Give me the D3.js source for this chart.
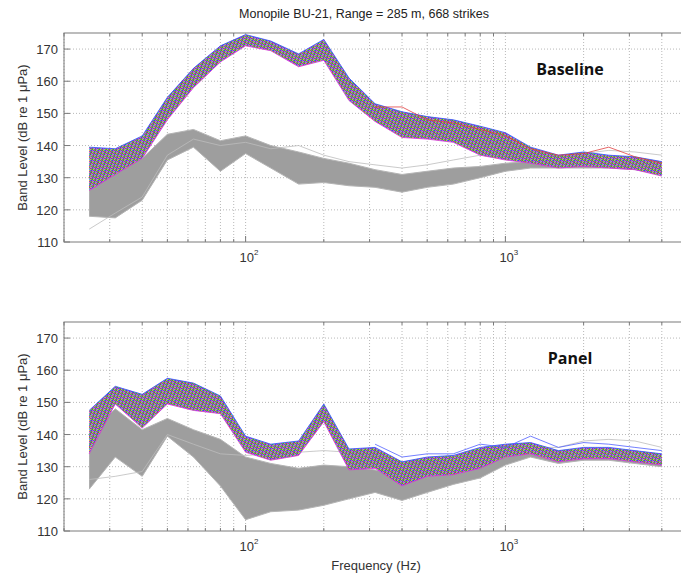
<!DOCTYPE html>
<html>
<head>
<meta charset="utf-8">
<script src="https://cdn.jsdelivr.net/npm/d3@7"></script>
<style>
  body { margin: 0; background: #fff; }
  svg { font-family: "Liberation Sans", Arial, sans-serif; }
</style>
</head>
<body>
<svg id="chart" width="681" height="574"></svg>
<script>
// 1/3 octave band centre frequencies (Hz)
const freqs = [25, 31.5, 40, 50, 63, 80, 100, 125, 160, 200, 250, 315, 400, 500, 630, 800, 1000, 1250, 1600, 2000, 2500, 3150, 4000];

// Baseline: strike levels (coloured bundle), upper and lower edge
const baseHi = [139.5, 139, 143, 155, 164, 171, 174.5, 172.5, 168.5, 173, 161, 153, 150.5, 149, 148, 146, 144, 139.5, 137, 138, 137, 136.5, 135];
const baseLo = [126, 131, 136, 148, 158, 166, 171, 169.5, 164.5, 166.5, 154, 147.5, 142.5, 142, 141, 137, 135.5, 134.5, 133, 133.5, 133, 132.5, 130.5];
// Baseline: background between strikes (grey bundle)
const baseBgHi = [133, 133, 136, 143.5, 145, 141.5, 143, 140, 138, 136, 134.5, 132.5, 131, 132, 133, 133.5, 134.5, 135, 135, 135, 135, 134.5, 133.5];
const baseBgLo = [118, 117.5, 123, 135.5, 139.5, 132, 137.5, 133, 128, 128.5, 127.5, 127, 125.5, 127, 128, 130, 132, 133, 133, 133, 133, 132.5, 131];
const baseBgOut1 = [114, 119, 124, 137, 142, 140, 141, 139, 140, 137, 135, 134, 133, 134, 135.5, 137, 136, 135.5, 136, 137.5, 138.5, 138, 137];
const baseOutRed = [null, null, null, null, null, null, null, null, null, null, null, 152, 152, 148, 147, 145, 143, 139, 137, 137.5, 139.5, 136.5, 134.5];

// Panel: strike levels (coloured bundle)
const panelHi = [147.5, 155, 152.5, 157.5, 156, 152, 139.5, 137, 138, 149.5, 135.5, 136, 131.5, 133, 133.5, 136, 137, 137.5, 135, 136, 136, 135, 134];
const panelLo = [134, 149.5, 142, 149.5, 147.5, 146.5, 134.5, 132, 133.5, 144, 129, 129.5, 124, 127, 127.5, 129.5, 133, 134, 131.5, 132.5, 132.5, 131.5, 130.5];
// Panel: background (grey bundle)
const panelBgHi = [140, 148, 141.5, 145, 141.5, 138.5, 133, 131, 129.5, 130.5, 130, 129, 127, 129, 129.5, 131, 134, 135.5, 134, 135, 135, 134, 133];
const panelBgLo = [123, 133, 127, 139.5, 133, 124, 113.5, 116, 116.5, 118, 120, 122, 119.5, 122, 124.5, 126.5, 130.5, 133, 131, 132, 132, 131, 130];
const panelBgOut1 = [126, 127, 128.5, 140, 137, 134, 133.5, 134, 134.5, 135, 134.5, 133, 131, 132, 132.5, 134, 135, 136, 136, 138, 138.5, 138, 136];
const panelOutBlue = [null, null, null, null, null, null, null, null, null, null, null, 137, 133, 134, 134, 137, 136, 139.5, 136, 137.5, 137, 136, 135];

const lineColors = ["#2f4cff", "#f0303a", "#22b040", "#d838d8", "#28c8d8", "#e8b030", "#8040c0", "#ff7090", "#3a80d0", "#70c030"];

const yTicks = [110, 120, 130, 140, 150, 160, 170];
const minorFreqs = [20, 30, 40, 50, 60, 70, 80, 90, 200, 300, 400, 500, 600, 700, 800, 900, 2000, 3000, 4000];
const majorFreqs = [100, 1000];

const svg = d3.select("#chart");

const margin = { left: 64, right: 687 };
const x = d3.scaleLog().domain([20, 5000]).range([margin.left, margin.right]);

// fine multicoloured texture used for the strike bundles
const defs = svg.append("defs");
const nC = lineColors.length;
const pat = defs.append("pattern")
    .attr("id", "rainbow")
    .attr("patternUnits", "userSpaceOnUse")
    .attr("width", 7)
    .attr("height", nC);
d3.range(7).forEach(c => {
    d3.range(nC).forEach(r => {
        pat.append("rect")
            .attr("x", c).attr("y", r)
            .attr("width", 1).attr("height", 1)
            .attr("fill", lineColors[(r + 3 * c) % nC]);
    });
});

function drawPanel(top, bottom, d, label, idx) {
    const y = d3.scaleLinear().domain([110, 175]).range([bottom, top]);
    const g = svg.append("g");

    defs.append("clipPath").attr("id", "clip" + idx)
        .append("rect")
        .attr("x", margin.left).attr("y", top)
        .attr("width", margin.right - margin.left).attr("height", bottom - top);

    // grid
    g.selectAll(".vg").data(minorFreqs.concat(majorFreqs)).join("line")
        .attr("x1", f => x(f)).attr("x2", f => x(f))
        .attr("y1", top).attr("y2", bottom)
        .attr("stroke", "#b8b8b8").attr("stroke-dasharray", "1,2");
    g.selectAll(".hg").data(yTicks.slice(1)).join("line")
        .attr("x1", margin.left).attr("x2", margin.right)
        .attr("y1", v => y(v)).attr("y2", v => y(v))
        .attr("stroke", "#b8b8b8").attr("stroke-dasharray", "1,2");

    const plot = g.append("g").attr("clip-path", `url(#clip${idx})`);

    const area = (hi, lo) => d3.area()
        .x(f => x(f))
        .y0((f, i) => y(lo[i]))
        .y1((f, i) => y(hi[i]))(freqs);
    const line = vals => d3.line()
        .defined((f, i) => vals[i] != null)
        .x(f => x(f))
        .y((f, i) => y(vals[i]))(freqs);

    // grey background bundle
    plot.append("path").attr("d", area(d.bgHi, d.bgLo))
        .attr("fill", "#9e9e9e");
    plot.append("path").attr("d", line(d.bgHi)).attr("fill", "none")
        .attr("stroke", "#b4b4b4").attr("stroke-width", 1);
    plot.append("path").attr("d", line(d.bgLo)).attr("fill", "none")
        .attr("stroke", "#b4b4b4").attr("stroke-width", 1);
    plot.append("path").attr("d", line(d.bgOut)).attr("fill", "none")
        .attr("stroke", "#bdbdbd").attr("stroke-width", 0.8);

    // coloured strike bundle
    plot.append("path").attr("d", area(d.hi, d.lo))
        .attr("fill", "url(#rainbow)");
    plot.append("path").attr("d", line(d.hi)).attr("fill", "none")
        .attr("stroke", lineColors[0]).attr("stroke-width", 0.8);
    plot.append("path").attr("d", line(d.lo)).attr("fill", "none")
        .attr("stroke", lineColors[3]).attr("stroke-width", 0.8);
    plot.append("path").attr("d", line(d.out)).attr("fill", "none")
        .attr("stroke", d.outColor).attr("stroke-width", 0.8);

    // box
    g.append("rect")
        .attr("x", margin.left).attr("y", top)
        .attr("width", margin.right - margin.left).attr("height", bottom - top)
        .attr("fill", "none").attr("stroke", "#7a7a7a");

    // ticks (inside)
    g.selectAll(".mt").data(minorFreqs).join("line")
        .attr("x1", f => x(f)).attr("x2", f => x(f))
        .attr("y1", bottom).attr("y2", bottom - 3)
        .attr("stroke", "#7a7a7a");
    g.selectAll(".mtt").data(minorFreqs).join("line")
        .attr("x1", f => x(f)).attr("x2", f => x(f))
        .attr("y1", top).attr("y2", top + 3)
        .attr("stroke", "#7a7a7a");
    g.selectAll(".Mt").data(majorFreqs).join("line")
        .attr("x1", f => x(f)).attr("x2", f => x(f))
        .attr("y1", bottom).attr("y2", bottom - 6)
        .attr("stroke", "#7a7a7a");
    g.selectAll(".yt").data(yTicks).join("line")
        .attr("x1", margin.left).attr("x2", margin.left + 6)
        .attr("y1", v => y(v)).attr("y2", v => y(v))
        .attr("stroke", "#7a7a7a");

    // y tick labels
    g.selectAll(".yl").data(yTicks).join("text")
        .attr("x", margin.left - 6).attr("y", v => y(v) + 5)
        .attr("text-anchor", "end").attr("font-size", 13).attr("fill", "#333")
        .text(v => v);

    // x tick labels 10^n
    majorFreqs.forEach(f => {
        const t = g.append("text")
            .attr("x", x(f) - 6).attr("y", bottom + 20)
            .attr("font-size", 13).attr("fill", "#333");
        t.append("tspan").text("10");
        t.append("tspan").attr("dy", -7).attr("font-size", 8).text(Math.log10(f));
    });

    // y axis label
    g.append("text")
        .attr("transform", `translate(27,${(top + bottom) / 2}) rotate(-90)`)
        .attr("text-anchor", "middle").attr("font-size", 13).attr("fill", "#333")
        .text("Band Level (dB re 1 \u03bcPa)");

    // panel label
    g.append("text")
        .attr("x", 570).attr("y", top + 42)
        .attr("text-anchor", "middle")
        .style("font-family", "'Open Sans', 'DejaVu Sans', sans-serif")
        .attr("font-weight", "bold").attr("font-size", 16).attr("fill", "#111")
        .text(label);
}

drawPanel(33, 242, { hi: baseHi, lo: baseLo, bgHi: baseBgHi, bgLo: baseBgLo, bgOut: baseBgOut1, out: baseOutRed, outColor: "#e04040" }, "Baseline", 0);
drawPanel(322, 531, { hi: panelHi, lo: panelLo, bgHi: panelBgHi, bgLo: panelBgLo, bgOut: panelBgOut1, out: panelOutBlue, outColor: "#5060ff" }, "Panel", 1);

// title
svg.append("text")
    .attr("x", 364).attr("y", 18)
    .attr("text-anchor", "middle").attr("font-size", 12.5).attr("fill", "#222")
    .text("Monopile BU-21, Range = 285 m, 668 strikes");

// x axis title
svg.append("text")
    .attr("x", 376).attr("y", 570)
    .attr("text-anchor", "middle").attr("font-size", 13).attr("fill", "#333")
    .text("Frequency (Hz)");
</script>
</body>
</html>
